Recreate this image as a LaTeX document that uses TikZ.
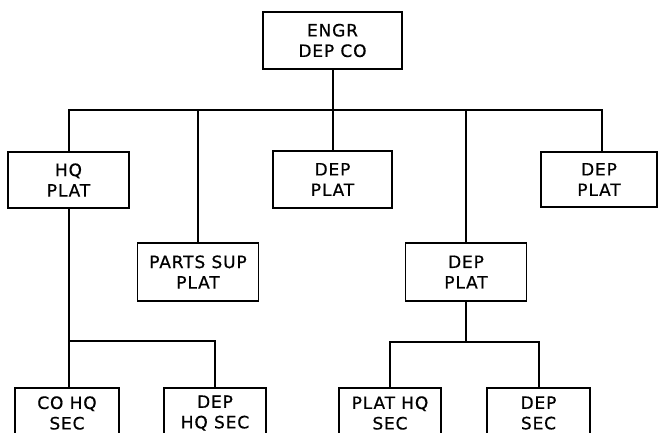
\documentclass[tikz,border=0pt]{standalone}
\usepackage{fontspec}
\setmainfont{DejaVu Sans}[LetterSpace=5, FakeBold=0.6]
\begin{document}
\begin{tikzpicture}[x=1pt,y=-1pt,
  unit/.style={draw, line width=1.8pt, align=center, inner sep=0pt,
    font=\fontsize{17}{20.5}\selectfont},
  link/.style={line width=2pt}]
\useasboundingbox (0,0) rectangle (658,433);
\clip (0,0) rectangle (658,433);
% top
\node[unit, minimum width=139pt, minimum height=57pt] (eng) at (332.5,40.5) {ENGR\\DEP CO};
% first row
\node[unit, minimum width=121pt, minimum height=56pt] (hq) at (68.5,180) {HQ\\PLAT};
\node[unit, minimum width=119pt, minimum height=57pt] (dep1) at (332.5,179.5) {DEP\\PLAT};
\node[unit, minimum width=116pt, minimum height=55pt] (dep3) at (599,179.5) {DEP\\PLAT};
% second row
\node[unit, minimum width=121pt, minimum height=58pt] (parts) at (198,272) {PARTS SUP\\PLAT};
\node[unit, minimum width=121pt, minimum height=58pt] (dep2) at (466,272) {DEP\\PLAT};
% bottom row (cut by the page edge)
\node[unit, minimum width=104pt, minimum height=50pt] (cohq) at (67,413) {CO HQ\\SEC};
\node[unit, minimum width=102pt, minimum height=50pt] (dephq) at (215,413) {DEP\\HQ SEC};
\node[unit, minimum width=102pt, minimum height=50pt] (plathq) at (390,413) {PLAT HQ\\SEC};
\node[unit, minimum width=103pt, minimum height=50pt] (depsec) at (538.5,413) {DEP\\SEC};
% bus coordinates
\coordinate (bus) at (0,110);
\coordinate (busR) at (602,110);
\coordinate (lsub) at (0,341);
\coordinate (rsub) at (0,342);
% connectors
\draw[link] (eng.south) -- (eng.south |- bus);
\draw[link] (hq.north) -- (hq.north |- bus) -- (busR) -- (busR |- dep3.north);
\draw[link] (parts.north) -- (parts.north |- bus);
\draw[link] (dep1.north) -- (dep1.north |- bus);
\draw[link] (dep2.north) -- (dep2.north |- bus);
\draw[link] (hq.south) -- (hq.south |- cohq.north);
\draw[link] (hq.south |- lsub) -| (dephq.north);
\draw[link] (dep2.south) -- (dep2.south |- rsub);
\draw[link] (plathq.north) |- (dep2.south |- rsub) -| (depsec.north);
\end{tikzpicture}
\end{document}
